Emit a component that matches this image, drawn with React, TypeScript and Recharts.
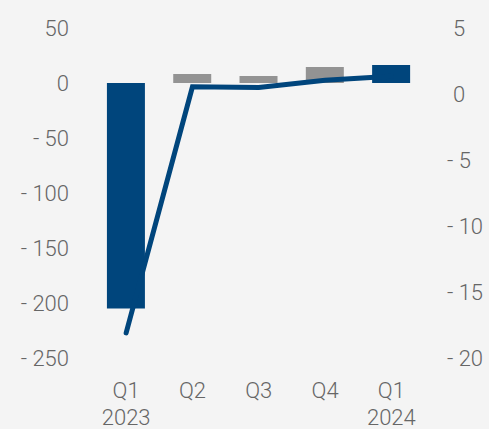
import React from 'react';
import { ComposedChart, Bar, Line, XAxis, YAxis, Cell } from 'recharts';

const categories = ['Q1\n2023', 'Q2', 'Q3', 'Q4', 'Q1\n2024'];
const barValues = [-205, 8.2, 6.4, 14.5, 16.4];
const lineValues = [-18.1, 0.55, 0.5, 1.05, 1.35];
const leftTicks = [50, 0, -50, -100, -150, -200, -250];
const rightTicks = [5, 0, -5, -10, -15, -20];

const BLUE = '#00457c';
const GREY = '#939393';
const TEXT = '#666666';
const FONT = 'Roboto, "Noto Sans", sans-serif';

const fmt = (v: number) => (v < 0 ? `- ${Math.abs(v)}` : `${v}`);

const data = categories.map((name, i) => ({
  name,
  bar: barValues[i],
  line: lineValues[i],
}));

const XTick = ({ x, y, payload }: any) => {
  const lines = String(payload.value).split('\n');
  return (
    <text x={x} y={y} textAnchor="middle" fill={TEXT} fontSize={22} fontFamily={FONT} fontWeight={300}>
      {lines.map((l, i) => (
        <tspan key={i} x={x} y={y + 34 + i * 27}>
          {l}
        </tspan>
      ))}
    </text>
  );
};

const RightTick = ({ x, y, payload }: any) => {
  const v = payload.value as number;
  return (
    <text
      x={x + (v >= 0 ? 6 : 0)}
      y={y}
      dy="0.355em"
      textAnchor="start"
      fill={TEXT}
      fontSize={22}
      fontFamily={FONT}
      fontWeight={300}
    >
      {fmt(v)}
    </text>
  );
};

export default function App() {
  return (
    <div style={{ position: 'absolute', left: 0, top: 0, width: 489, height: 429, background: '#f4f4f4' }}>
      <ComposedChart
        width={489}
        height={429}
        data={data}
        margin={{ top: 28, right: 0, left: 0, bottom: 0 }}
        barCategoryGap="21%"
      >
        <XAxis
          dataKey="name"
          axisLine={false}
          tickLine={false}
          tickMargin={0}
          interval={0}
          tick={<XTick />}
          height={71}
        />
        <YAxis
          yAxisId="left"
          orientation="left"
          width={93}
          domain={[-250, 50]}
          ticks={leftTicks}
          axisLine={false}
          tickLine={false}
          tickMargin={18}
          tickFormatter={fmt}
          tick={{ fill: TEXT, fontSize: 22, fontFamily: FONT, fontWeight: 300 }}
          interval={0}
        />
        <YAxis
          yAxisId="right"
          orientation="right"
          width={64.5}
          domain={[-20, 5]}
          ticks={rightTicks}
          axisLine={false}
          tickLine={false}
          tickMargin={16.5}
          tick={<RightTick />}
          interval={0}
        />
        <Bar yAxisId="left" dataKey="bar" isAnimationActive={false}>
          {barValues.map((_, i) => (
            <Cell key={i} fill={i === 0 || i === barValues.length - 1 ? BLUE : GREY} />
          ))}
        </Bar>
        <Line
          yAxisId="right"
          dataKey="line"
          stroke={BLUE}
          strokeWidth={5}
          strokeLinecap="round"
          dot={false}
          activeDot={false}
          type="linear"
          isAnimationActive={false}
        />
      </ComposedChart>
    </div>
  );
}
